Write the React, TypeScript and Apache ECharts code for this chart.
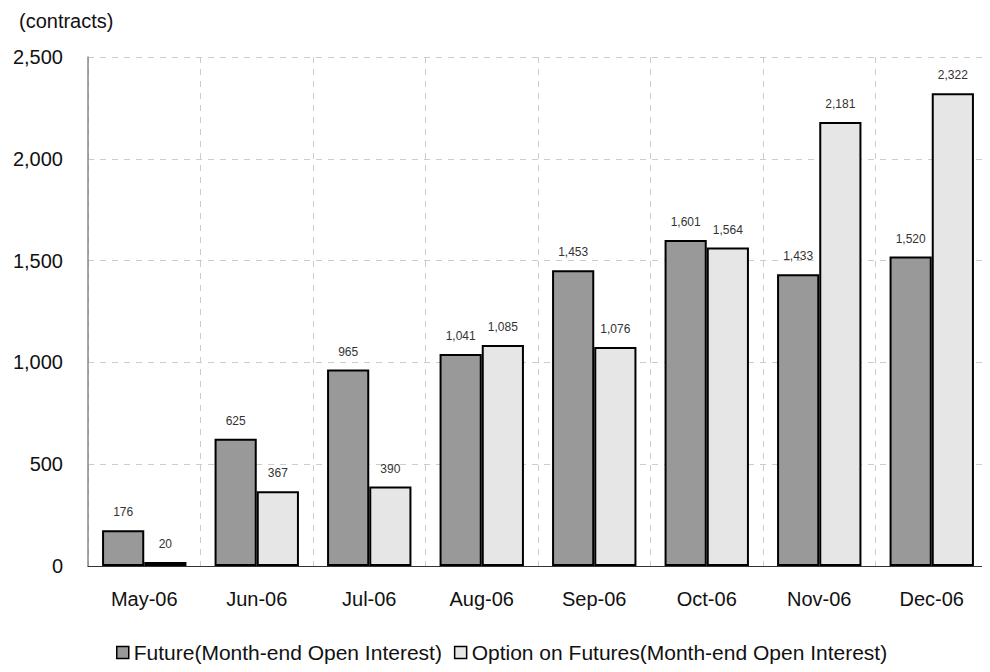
import React, { useEffect, useRef } from "react";
import * as echarts from "echarts";

const categories = ["May-06", "Jun-06", "Jul-06", "Aug-06", "Sep-06", "Oct-06", "Nov-06", "Dec-06"];
const futureValues = [176, 625, 965, 1041, 1453, 1601, 1433, 1520];
const optionValues = [20, 367, 390, 1085, 1076, 1564, 2181, 2322];
const seriesNames = ["Future(Month-end Open Interest)", "Option on Futures(Month-end Open Interest)"];

const fmt = (v: number) => v.toLocaleString("en-US");
const FONT = "Liberation Sans, Arial, sans-serif";

export default function App() {
  const ref = useRef<HTMLDivElement>(null);
  useEffect(() => {
    const chart = echarts.init(ref.current!, null, { renderer: "svg" });
    const label = {
      show: true,
      position: "top" as const,
      distance: 12,
      fontSize: 12,
      color: "#333",
      fontFamily: FONT,
      formatter: (p: any) => fmt(p.value),
    };
    chart.setOption({
      animation: false,
      backgroundColor: "#fff",
      textStyle: { fontFamily: FONT },
      grid: { left: 88, right: 2, top: 57, bottom: 106, containLabel: false },
      graphic: [
        {
          type: "text",
          left: 19,
          top: 11,
          style: { text: "(contracts)", fontSize: 20, fill: "#111", fontFamily: FONT },
        },
      ],
      legend: {
        bottom: 4,
        left: 111,
        itemWidth: 12,
        itemHeight: 12,
        itemGap: 12,
        icon: "rect",
        textStyle: { fontSize: 21, color: "#111", fontFamily: FONT },
        data: seriesNames.map((n) => ({ name: n, itemStyle: { borderColor: "#000", borderWidth: 1.5 } })),
      },
      xAxis: {
        type: "category",
        data: categories,
        axisLine: { lineStyle: { color: "#333", width: 1 } },
        axisTick: { show: false },
        axisLabel: { fontSize: 20, color: "#111", margin: 23, fontFamily: FONT },
        splitLine: { show: true, lineStyle: { type: [6, 6], color: "#ccc" } },
      },
      yAxis: {
        type: "value",
        min: 0,
        max: 2500,
        interval: 500,
        axisLine: { show: true, lineStyle: { color: "#888", width: 1.5 } },
        axisTick: { show: false },
        axisLabel: { fontSize: 20, color: "#111", margin: 25, fontFamily: FONT, formatter: (v: number) => fmt(v) },
        splitLine: { show: true, lineStyle: { type: [6, 6], color: "#ccc" } },
      },
      series: [
        {
          name: seriesNames[0],
          type: "bar",
          data: futureValues,
          barGap: "0%",
          barCategoryGap: "25%",
          itemStyle: { color: "#999", borderColor: "#000", borderWidth: 2 },
          label,
        },
        {
          name: seriesNames[1],
          type: "bar",
          data: optionValues,
          barGap: "0%",
          barCategoryGap: "25%",
          itemStyle: { color: "#e6e6e6", borderColor: "#000", borderWidth: 2 },
          label,
        },
      ],
    });
    return () => chart.dispose();
  }, []);
  return <div ref={ref} style={{ width: 990, height: 672, margin: -8 }} />;
}
